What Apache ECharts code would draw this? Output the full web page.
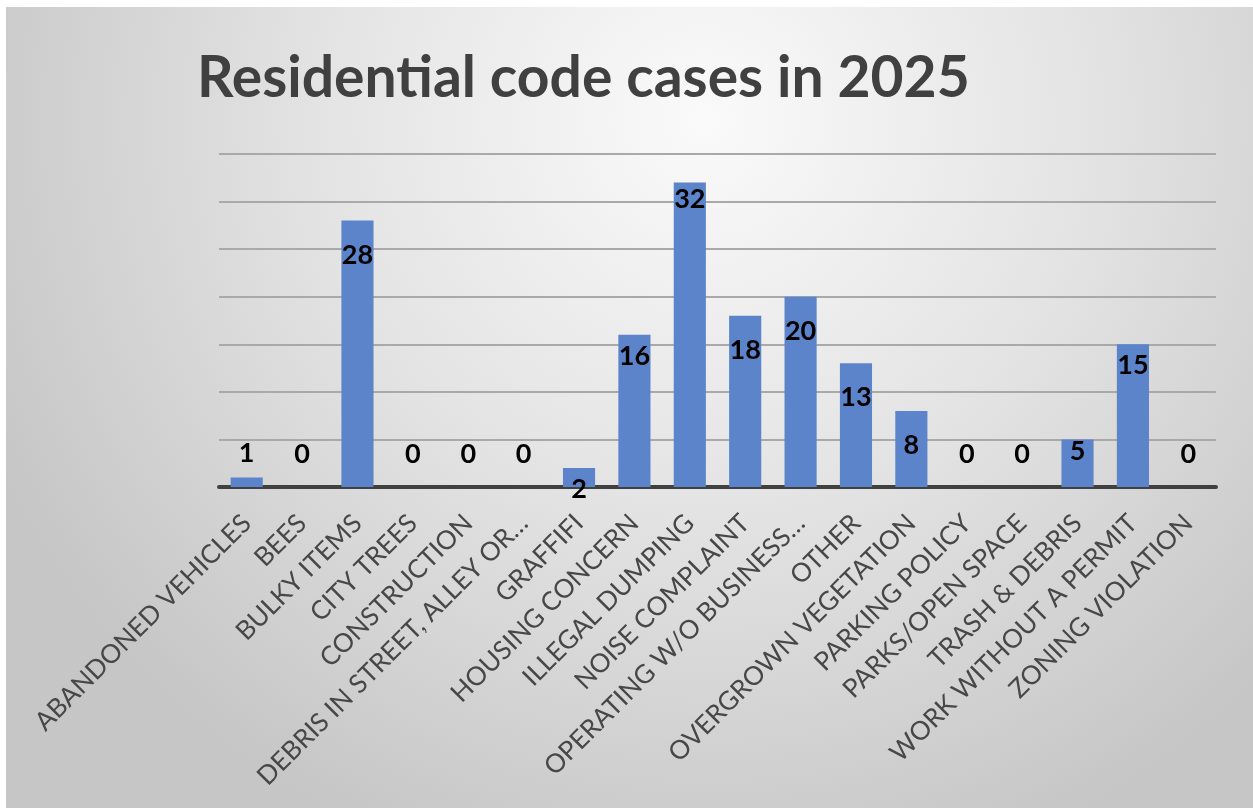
<!DOCTYPE html>
<html>
<head>
<meta charset="utf-8">
<script src="https://cdn.jsdelivr.net/npm/echarts@6/dist/echarts.min.js"></script>
<style>
  html, body { margin: 0; padding: 0; background: #ffffff; }
  #chart { position: absolute; left: 6px; top: 7px; width: 1247px; height: 801px; }
</style>
</head>
<body>
<div id="chart"></div>
<script>
// ---- data ----
const categories = [
  'ABANDONED VEHICLES', 'BEES', 'BULKY ITEMS', 'CITY TREES', 'CONSTRUCTION',
  'DEBRIS IN STREET, ALLEY OR…', 'GRAFFIFI', 'HOUSING CONCERN', 'ILLEGAL DUMPING',
  'NOISE COMPLAINT', 'OPERATING W/O BUSINESS…', 'OTHER', 'OVERGROWN VEGETATION',
  'PARKING POLICY', 'PARKS/OPEN SPACE', 'TRASH & DEBRIS', 'WORK WITHOUT A PERMIT',
  'ZONING VIOLATION'
];
const caseCounts = [1, 0, 28, 0, 0, 0, 2, 16, 32, 18, 20, 13, 8, 0, 0, 5, 15, 0];
const titleText = 'Residential code cases in 2025';
const yMin = 0, yMax = 35, yStep = 5;

// ---- label styling (distance of label centre below bar top, px; negative = above) ----
const labelDy = [-24, -33, 35, -33, -33, -33, 21, 22, 17, 35, 35, 34, 34, -33, -33, 12, 21, -33];

const chart = echarts.init(document.getElementById('chart'));

const seriesData = caseCounts.map((v, i) => ({
  value: v,
  label: {
    show: true,
    position: ['50%', labelDy[i]],
    align: 'center',
    verticalAlign: 'middle'
  }
}));

chart.setOption({
  backgroundColor: new echarts.graphic.RadialGradient(0.56, 0.14, 0.98, [
    { offset: 0, color: '#fafafa' },
    { offset: 0.5, color: '#e3e3e3' },
    { offset: 1, color: '#c6c6c6' }
  ]),
  animation: false,
  title: {
    text: titleText,
    left: 186,
    top: 38,
    textStyle: {
      fontFamily: 'Lato',
      fontWeight: 'bold',
      fontSize: 57,
      color: '#404040'
    }
  },
  grid: { left: 213, right: 37, top: 147, bottom: 321, containLabel: false },
  xAxis: {
    type: 'category',
    data: categories,
    axisLine: { show: true, lineStyle: { color: '#404040', width: 4 } },
    axisTick: { show: false },
    axisLabel: {
      rotate: 45,
      interval: 0,
      margin: 32,
      fontFamily: 'Lato',
      fontSize: 26,
      color: '#474747'
    }
  },
  yAxis: {
    type: 'value',
    min: yMin, max: yMax, interval: yStep,
    axisLine: { show: false },
    axisTick: { show: false },
    axisLabel: { show: false },
    splitLine: { lineStyle: { color: '#a9a9a9', width: 2 } }
  },
  series: [{
    type: 'bar',
    data: seriesData,
    barWidth: '58%',
    itemStyle: { color: '#5B84CA' },
    label: {
      show: true,
      fontFamily: 'Lato',
      fontWeight: 'bold',
      fontSize: 27,
      color: '#000000'
    }
  }]
});
</script>
</body>
</html>
